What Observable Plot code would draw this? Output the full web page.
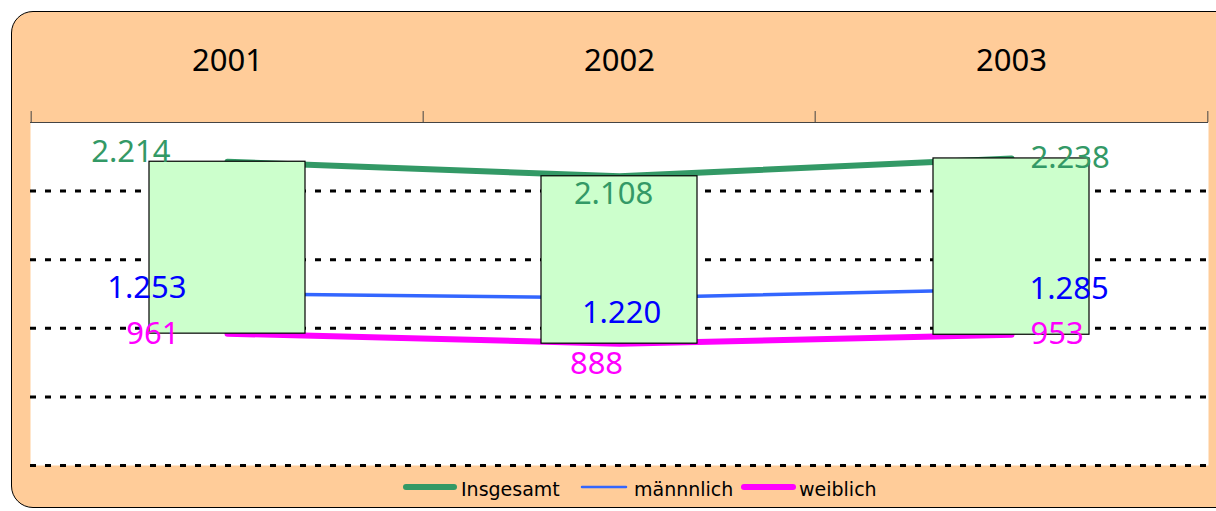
<!DOCTYPE html>
<html>
<head>
<meta charset="utf-8">
<script src="https://cdn.jsdelivr.net/npm/d3@7"></script>
<script src="https://cdn.jsdelivr.net/npm/@observablehq/plot@0.6"></script>
<style>
  html, body { margin: 0; padding: 0; background: #fff; }
  #wrap { position: relative; width: 1216px; height: 511px; overflow: hidden; }
  #bg { position: absolute; left: 11px; top: 11px; width: 1240px; height: 497px;
        background: #FFCC99; border: 1.5px solid #000; border-radius: 22px; box-sizing: border-box; }
  #chart { position: absolute; left: 0; top: 0; }
  #legend { position: absolute; left: 0; top: 475px; width: 1216px; height: 36px;
            font-family: "DejaVu Sans", Verdana, sans-serif; font-size: 19px; color: #000; }
  .sw { position: absolute; top: 7px; height: 10px; }
  .lt { position: absolute; top: 2px; line-height: 24px; white-space: nowrap; }
</style>
</head>
<body>
<div id="wrap">
  <div id="bg"></div>
  <div id="chart"></div>
  <div id="legend"></div>
</div>
<script>
// ---- data ----
const years = ["2001", "2002", "2003"];
const seriesNames = ["Insgesamt", "männnlich", "weiblich"];
const insgesamt = [2214, 2108, 2238];
const maennlich = [1253, 1220, 1285];
const weiblich = [961, 888, 953];
const gridValues = [0, 500, 1000, 1500, 2000];
const yMax = 2500;

// ---- styles (not data) ----
const lineColors = {"Insgesamt": "#339966", "männnlich": "#3366FF", "weiblich": "#FF00FF"};
const labelColors = {"Insgesamt": "#339966", "männnlich": "#0000FF", "weiblich": "#FF00FF"};
const lineWidths = {"Insgesamt": 6, "männnlich": 3.5, "weiblich": 6};
// label placement per series per year: [anchor, dx, dy]
const labelPlace = {
  "Insgesamt": [["end", -57, -10], ["middle", -6, 18], ["start", 19, 0]],
  "männnlich": [["end", -41, -6], ["middle", 2, 15], ["start", 18, 0]],
  "weiblich":  [["end", -48, 0], ["middle", -23, 20], ["start", 19, -1]]
};

const W = 1216, H = 475;
const mL = 30, mR = 8, mT = 122, mB = 10;
const bw = (W - mL - mR) / years.length;

const de = d3.formatLocale({decimal: ",", thousands: ".", grouping: [3], currency: ["", " €"]});
const fmt = de.format(",");

const valuesBySeries = {"Insgesamt": insgesamt, "männnlich": maennlich, "weiblich": weiblich};
const long = [];
for (const s of seriesNames) {
  years.forEach((y, i) => long.push({series: s, year: y, value: valuesBySeries[s][i], i}));
}
const boxes = years.map((y, i) => ({year: y, hi: insgesamt[i], lo: weiblich[i]}));

const numFont = "'Noto Sans', 'Open Sans', sans-serif";
const numSize = 31;

const marks = [
  Plot.frame({fill: "white", stroke: null}),
  Plot.ruleY(gridValues, {stroke: "#000", strokeWidth: 3, strokeDasharray: "6,9"}),
  Plot.ruleY([yMax], {stroke: "#444", strokeWidth: 1}),
  Plot.ruleX(years, {x: d => d, dx: -bw / 2, y1: yMax, y2: yMax + 80, stroke: "#444", strokeWidth: 1}),
  Plot.ruleX([years[years.length - 1]], {x: d => d, dx: bw / 2, y1: yMax, y2: yMax + 80, stroke: "#444", strokeWidth: 1}),
  Plot.text(years, {x: d => d, frameAnchor: "top", dy: -61, text: d => d, fontSize: numSize,
    fontFamily: numFont, fill: "#000", lineAnchor: "middle"})
];
for (const s of seriesNames) {
  marks.push(Plot.line(long.filter(d => d.series === s), {
    x: "year", y: "value", stroke: lineColors[s], strokeWidth: lineWidths[s],
    strokeLinecap: "round", strokeLinejoin: "round"
  }));
}
marks.push(Plot.barY(boxes, {x: "year", y1: "lo", y2: "hi", fill: "#CCFFCC", stroke: "#000",
  strokeWidth: 1.2, insetLeft: 118, insetRight: 118}));
for (const s of seriesNames) {
  long.filter(d => d.series === s).forEach(d => {
    const [anchor, dx, dy] = labelPlace[s][d.i];
    marks.push(Plot.text([d], {x: "year", y: "value", text: v => fmt(v.value), textAnchor: anchor,
      dx, dy, lineAnchor: "middle", fill: labelColors[s], fontSize: numSize, fontFamily: numFont}));
  });
}

const chart = Plot.plot({
  width: W, height: H,
  marginLeft: mL, marginRight: mR, marginTop: mT, marginBottom: mB,
  style: {background: "transparent", overflow: "visible"},
  x: {type: "band", domain: years, padding: 0, axis: null},
  y: {domain: [0, yMax], axis: null},
  marks
});
document.getElementById("chart").appendChild(chart);

// ---- legend ----
const legendPos = [
  {name: "Insgesamt", sx: 403, sw: 54, tx: 461},
  {name: "männnlich", sx: 579, sw: 50, tx: 634},
  {name: "weiblich", sx: 741, sw: 55, tx: 799}
];
const leg = document.getElementById("legend");
for (const p of legendPos) {
  const sw = lineWidths[p.name] === 6 ? 6 : 2.5;
  const svgNS = "http://www.w3.org/2000/svg";
  const svg = document.createElementNS(svgNS, "svg");
  svg.setAttribute("class", "sw");
  svg.setAttribute("width", p.sw);
  svg.setAttribute("height", 10);
  svg.style.left = p.sx + "px";
  const ln = document.createElementNS(svgNS, "line");
  ln.setAttribute("x1", 3); ln.setAttribute("x2", p.sw - 3);
  ln.setAttribute("y1", 5); ln.setAttribute("y2", 5);
  ln.setAttribute("stroke", lineColors[p.name]);
  ln.setAttribute("stroke-width", sw);
  ln.setAttribute("stroke-linecap", "round");
  svg.appendChild(ln);
  leg.appendChild(svg);
  const t = document.createElement("span");
  t.className = "lt";
  t.style.left = p.tx + "px";
  t.textContent = p.name;
  leg.appendChild(t);
}
</script>
</body>
</html>
